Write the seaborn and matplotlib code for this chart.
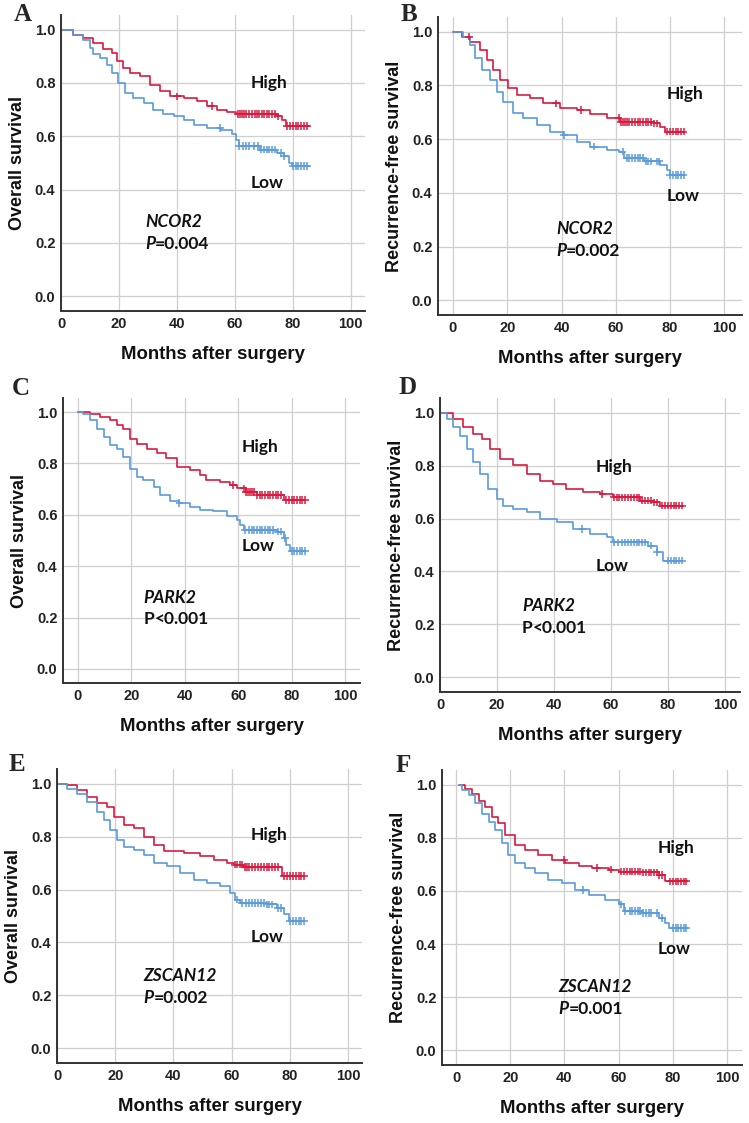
import numpy as np
import pandas as pd
import matplotlib
matplotlib.use('Agg')
import matplotlib.pyplot as plt
import seaborn as sns

# ---- Kaplan-Meier step values (months, survival) ----
# A: overall survival, NCOR2
A_HIGH_T = [0, 4.3, 7.7, 11.2, 14.6, 17.5, 19.2, 21.5, 23.8, 27.3, 30.8, 34.3, 37.7, 42.4, 47, 50.5, 54, 57.4, 60.3, 74.7, 76.4, 77.6, 85.5]
A_HIGH_S = [1.0, 0.981, 0.969, 0.950, 0.929, 0.913, 0.882, 0.857, 0.838, 0.826, 0.794, 0.769, 0.750, 0.744, 0.734, 0.713, 0.700, 0.692, 0.684, 0.675, 0.663, 0.638, 0.638]
A_LOW_T = [0, 4.3, 7.7, 10, 11.2, 13.5, 15.8, 17.5, 19.8, 22.1, 25, 28.5, 31.9, 35.4, 38.9, 42.4, 45.8, 50.5, 55.1, 59.1, 60.3, 61.4, 68.9, 74.7, 77, 78.7, 79.9, 85.5]
A_LOW_S = [1.0, 0.981, 0.963, 0.931, 0.907, 0.894, 0.869, 0.838, 0.800, 0.763, 0.744, 0.725, 0.700, 0.684, 0.675, 0.663, 0.644, 0.632, 0.622, 0.607, 0.588, 0.563, 0.550, 0.538, 0.525, 0.500, 0.488, 0.488]
A_HIGH_CENS = [40, 52, 61, 61.7, 62.5, 63.3, 64, 65, 66, 67, 67.8, 68.5, 69.3, 70, 71, 72, 73, 74, 75, 78, 79, 80, 81, 82, 83, 84, 85]
A_LOW_CENS = [55, 61.5, 63, 64, 65, 66.5, 68, 69, 70, 71, 72, 73, 74, 76, 77, 80, 81, 82, 83, 84, 85]

# B: recurrence-free survival, NCOR2
B_HIGH_T = [0, 0.7, 3.5, 6.3, 9.9, 12.4, 14.9, 17.3, 20.4, 23.5, 28.4, 33.3, 39.5, 45.6, 50.6, 56.7, 61.6, 73.9, 76.4, 78.2, 85]
B_HIGH_S = [1.0, 1.0, 0.982, 0.963, 0.932, 0.895, 0.858, 0.820, 0.789, 0.764, 0.752, 0.733, 0.715, 0.709, 0.694, 0.678, 0.665, 0.659, 0.647, 0.628, 0.628]
B_LOW_T = [0, 0.7, 3.8, 6.3, 8.1, 10.6, 13.7, 16.1, 18.6, 22.3, 25.9, 30.9, 35.8, 40.7, 45.6, 50.6, 56.7, 61, 62.9, 70.3, 76.4, 78.8, 80, 85]
B_LOW_S = [1.0, 1.0, 0.982, 0.951, 0.901, 0.858, 0.820, 0.777, 0.740, 0.696, 0.678, 0.653, 0.628, 0.616, 0.591, 0.572, 0.560, 0.554, 0.529, 0.517, 0.504, 0.486, 0.467, 0.467]
B_HIGH_CENS = [6, 38, 47, 61, 62, 62.8, 63.5, 64.3, 65, 66, 67, 68, 69, 70, 71, 72, 73, 74, 75, 79, 80, 81, 82, 83, 84, 85]
B_LOW_CENS = [41, 52, 62.5, 64, 65, 66, 67, 68, 69, 70, 71, 72, 73, 75, 76, 80, 81, 82, 83, 84, 85]

# C: overall survival, PARK2
C_HIGH_T = [0, 4.6, 8.4, 12, 14.6, 17, 19.6, 22, 25.8, 29.5, 33, 37, 42, 45.8, 48, 53, 57, 59.5, 63, 67, 77, 85]
C_HIGH_S = [1.0, 0.994, 0.98, 0.968, 0.95, 0.935, 0.897, 0.877, 0.858, 0.84, 0.82, 0.787, 0.775, 0.755, 0.735, 0.729, 0.716, 0.703, 0.69, 0.677, 0.658, 0.658]
C_LOW_T = [0, 2, 4.6, 7, 9.6, 12, 14.6, 17, 19.6, 22, 24.5, 28.3, 30.8, 34.5, 38, 42, 45.8, 50.7, 55.7, 59.5, 60.7, 62, 74.4, 77, 78, 79.4, 85]
C_LOW_S = [1.0, 0.994, 0.968, 0.935, 0.903, 0.871, 0.858, 0.826, 0.78, 0.748, 0.735, 0.71, 0.677, 0.652, 0.645, 0.632, 0.619, 0.613, 0.594, 0.58, 0.561, 0.542, 0.535, 0.51, 0.484, 0.458, 0.458]
C_HIGH_CENS = [58, 62, 63, 63.7, 64.5, 65.3, 66, 67, 68, 69, 70, 71, 72, 73, 74, 75, 76, 78, 79, 80, 81, 82, 83, 84, 85]
C_LOW_CENS = [38, 62.5, 64, 65, 66, 67, 68, 69, 70, 71, 72, 73, 75, 76, 77.5, 80, 81, 82, 83, 84, 85]

# D: recurrence-free survival, PARK2
D_HIGH_T = [0, 4.7, 8.2, 11.7, 14.6, 17.5, 21, 25.7, 30.4, 35.1, 39.8, 44.4, 50.3, 56.1, 60.8, 70.2, 74.9, 77.2, 85.4]
D_HIGH_S = [1.0, 0.976, 0.945, 0.920, 0.901, 0.864, 0.826, 0.801, 0.768, 0.743, 0.731, 0.712, 0.699, 0.693, 0.680, 0.668, 0.661, 0.649, 0.649]
D_LOW_T = [0, 2.3, 4.7, 7, 9.4, 11.7, 14, 17, 19.9, 22.2, 25.7, 30.4, 35.1, 40.9, 46.8, 52.6, 58.5, 60.8, 73.1, 76, 78.4, 85]
D_LOW_S = [1.0, 0.976, 0.945, 0.913, 0.864, 0.813, 0.769, 0.712, 0.674, 0.649, 0.637, 0.624, 0.599, 0.586, 0.561, 0.542, 0.529, 0.510, 0.498, 0.472, 0.441, 0.441]
D_HIGH_CENS = [57, 61, 62, 63, 64, 65, 66, 67, 68, 69, 70, 71, 72, 73, 74, 75, 76, 78, 79, 80, 81, 82, 83, 84, 85]
D_LOW_CENS = [50, 61, 62.5, 64, 65, 66, 67, 68, 69, 70, 71, 72, 74, 76, 80, 81, 82, 83, 84, 85]

# E: overall survival, ZSCAN12
E_HIGH_T = [0, 3.4, 6.9, 10.3, 13.7, 17.2, 19.5, 22.9, 26.3, 29.8, 33.2, 36.6, 43.5, 49, 53.8, 58.4, 60.7, 64, 77.3, 85]
E_HIGH_S = [1.0, 0.994, 0.975, 0.95, 0.925, 0.912, 0.875, 0.844, 0.831, 0.80, 0.769, 0.744, 0.737, 0.725, 0.712, 0.70, 0.694, 0.685, 0.65, 0.65]
E_LOW_T = [0, 3.4, 6.9, 10.3, 13.7, 16, 18.3, 20.6, 22.9, 26.3, 29.8, 33.2, 37.8, 42.4, 47, 51.5, 56, 59.6, 61.3, 63, 72, 75.6, 77.9, 79.6, 85]
E_LOW_S = [1.0, 0.981, 0.962, 0.931, 0.894, 0.862, 0.825, 0.787, 0.762, 0.75, 0.731, 0.70, 0.687, 0.662, 0.637, 0.625, 0.612, 0.587, 0.562, 0.55, 0.544, 0.531, 0.506, 0.481, 0.481]
E_HIGH_CENS = [61, 62, 63, 63.7, 64.5, 65.3, 66, 67, 68, 69, 70, 71, 72, 73, 74, 75, 76, 78, 79, 80, 81, 82, 83, 84, 85]
E_LOW_CENS = [62, 63.5, 65, 66, 67, 68, 69, 70, 71, 72, 73, 74, 76, 77, 80, 81, 82, 83, 84, 85]

# F: recurrence-free survival, ZSCAN12
F_HIGH_T = [0.9, 3.3, 5.8, 8.3, 10.7, 13.2, 15.6, 18.1, 21.8, 25.5, 30.4, 35.3, 40.3, 45.2, 50, 56.3, 60, 68.6, 74.8, 77.2, 85]
F_HIGH_S = [1.0, 0.985, 0.966, 0.94, 0.916, 0.879, 0.854, 0.81, 0.773, 0.755, 0.735, 0.717, 0.704, 0.695, 0.686, 0.68, 0.673, 0.67, 0.661, 0.636, 0.636]
F_LOW_T = [0.9, 2, 4.6, 7, 9.5, 12, 14.4, 16.9, 19.3, 21.8, 25.5, 29, 34, 39, 44, 48.9, 55, 60, 61.8, 68.6, 74.8, 77.2, 78.4, 85]
F_LOW_S = [1.0, 0.98, 0.96, 0.93, 0.89, 0.86, 0.83, 0.78, 0.736, 0.704, 0.686, 0.667, 0.642, 0.63, 0.604, 0.586, 0.567, 0.549, 0.524, 0.517, 0.499, 0.48, 0.461, 0.461]
F_HIGH_CENS = [40, 52, 57, 61, 62, 63, 64, 65, 66, 67, 68, 69, 70, 71, 72, 73, 74, 75, 76, 79, 80, 81, 82, 83, 84, 85]
F_LOW_CENS = [47, 61, 62.5, 64, 65, 66, 67, 68, 69, 70, 71, 72, 74, 76, 80, 81, 82, 83, 84, 85]

LETTERS = ['A', 'B', 'C', 'D', 'E', 'F']
YLABELS = ['Overall survival', 'Recurrence-free survival'] * 3
GENES = ['NCOR2', 'NCOR2', 'PARK2', 'PARK2', 'ZSCAN12', 'ZSCAN12']
PVALUES = ['=0.004', '=0.002', '<0.001', '<0.001', '=0.002', '=0.001']
P_ITALIC = [True, True, False, False, True, True]

RED = '#d81a40'
BLUE = '#5b9bdc'
palette = {'High': RED, 'Low': BLUE}

sns.set_style('whitegrid')
plt.rcParams['font.family'] = ['Liberation Sans', 'DejaVu Sans']
ANNOT_FONT = ['Lato', 'DejaVu Sans']


def km_frame(t, s, group):
    return pd.DataFrame({'months': t, 'survival': s, 'group': group})


def censor_frame(t, s, cens, group):
    t = np.asarray(t)
    s = np.asarray(s)
    idx = np.searchsorted(t, cens, side='right') - 1
    return pd.DataFrame({'months': cens, 'survival': s[idx], 'group': group})


def draw_panel(fig, rect, xlim, i, high, low, high_xy, low_xy, gene_xy, letter_xy):
    ax = fig.add_axes(rect)
    df = pd.concat([km_frame(high[0], high[1], 'High'),
                    km_frame(low[0], low[1], 'Low')])
    sns.lineplot(data=df, x='months', y='survival', hue='group',
                 palette=palette, estimator=None, drawstyle='steps-post',
                 linewidth=1.2, legend=False, ax=ax)
    cf = pd.concat([censor_frame(high[0], high[1], high[2], 'High'),
                    censor_frame(low[0], low[1], low[2], 'Low')])
    sns.scatterplot(data=cf, x='months', y='survival', hue='group',
                    palette=palette, marker='+', s=30, linewidth=1.1,
                    legend=False, ax=ax, zorder=3)

    ax.set_xlim(*xlim)
    ax.set_ylim(-0.055, 1.055)
    ax.set_xticks([0, 20, 40, 60, 80, 100])
    ax.set_yticks([0.0, 0.2, 0.4, 0.6, 0.8, 1.0])
    ax.set_yticklabels(['%.1f' % v for v in [0.0, 0.2, 0.4, 0.6, 0.8, 1.0]])
    ax.grid(True, color='#cfcfcf', linewidth=0.9)
    ax.set_axisbelow(True)
    for side in ['top', 'right']:
        ax.spines[side].set_visible(False)
    for side in ['left', 'bottom']:
        ax.spines[side].set_visible(True)
        ax.spines[side].set_color('#333333')
        ax.spines[side].set_linewidth(1.4)
    ax.tick_params(length=0, pad=4, labelsize=10.5, labelcolor='#222222')
    for lab in ax.get_xticklabels() + ax.get_yticklabels():
        lab.set_fontweight('bold')
    ax.set_xlabel('Months after surgery', fontsize=13.3, fontweight='bold',
                  color='#111111', labelpad=11)
    ax.set_ylabel(YLABELS[i], fontsize=13, fontweight='bold',
                  color='#111111', labelpad=6)

    ax.text(high_xy[0], high_xy[1], 'High', fontsize=12.5, fontweight='bold',
            family=ANNOT_FONT, va='center', ha='left', color='#111111')
    ax.text(low_xy[0], low_xy[1], 'Low', fontsize=12.5, fontweight='bold',
            family=ANNOT_FONT, va='center', ha='left', color='#111111')
    ax.text(gene_xy[0], gene_xy[1], GENES[i], fontsize=12.5, fontweight='bold',
            style='italic', family=ANNOT_FONT, va='center', ha='left',
            color='#111111')
    p = ax.text(gene_xy[0], gene_xy[1] - 0.083, 'P', fontsize=12.5,
                fontweight='bold', style='italic' if P_ITALIC[i] else 'normal',
                family=ANNOT_FONT, va='center', ha='left', color='#111111')
    ax.annotate(PVALUES[i], xy=(1, 0), xycoords=p, va='bottom', ha='left',
                fontsize=12.5, fontweight='bold', family=ANNOT_FONT,
                color='#111111')
    fig.text(letter_xy[0], letter_xy[1], LETTERS[i], fontsize=18,
             fontweight='bold', family=['Liberation Serif', 'DejaVu Serif'],
             ha='left', va='top')
    return ax


W, H = 749, 1123
fig = plt.figure(figsize=(W / 100, H / 100), dpi=100)


def rect_px(left, top, right, bottom):
    return [left / W, 1 - bottom / H, (right - left) / W, (bottom - top) / H]


panels = [
    (rect_px(61, 15, 365, 311), (0, 105), (A_HIGH_T, A_HIGH_S, A_HIGH_CENS),
     (A_LOW_T, A_LOW_S, A_LOW_CENS), (65.4, 0.80), (65.4, 0.425), (29, 0.28), (14, 3)),
    (rect_px(438, 17, 742, 315), (-5.5, 106.5), (B_HIGH_T, B_HIGH_S, B_HIGH_CENS),
     (B_LOW_T, B_LOW_S, B_LOW_CENS), (78.7, 0.768), (78.7, 0.39), (38, 0.267), (401, 3)),
    (rect_px(63, 398, 360, 683), (-5.6, 105.6), (C_HIGH_T, C_HIGH_S, C_HIGH_CENS),
     (C_LOW_T, C_LOW_S, C_LOW_CENS), (61.3, 0.865), (61.3, 0.48), (24.6, 0.277), (12, 377)),
    (rect_px(440, 398, 740, 692), (0, 105.3), (D_HIGH_T, D_HIGH_S, D_HIGH_CENS),
     (D_LOW_T, D_LOW_S, D_LOW_CENS), (54.5, 0.796), (54.5, 0.42), (28.8, 0.27), (399, 376)),
    (rect_px(57, 769, 362, 1063), (0, 104.8), (E_HIGH_T, E_HIGH_S, E_HIGH_CENS),
     (E_LOW_T, E_LOW_S, E_LOW_CENS), (66.4, 0.806), (66.4, 0.4225), (29.6, 0.275), (9, 753)),
    (rect_px(442, 770, 742, 1065), (-5.2, 105.5), (F_HIGH_T, F_HIGH_S, F_HIGH_CENS),
     (F_LOW_T, F_LOW_S, F_LOW_CENS), (74.4, 0.763), (74.4, 0.38), (37.8, 0.237), (396, 754)),
]

for i, (rect, xlim, high, low, hxy, lxy, gxy, letter_px) in enumerate(panels):
    draw_panel(fig, rect, xlim, i, high, low, hxy, lxy, gxy,
               (letter_px[0] / W, 1 - letter_px[1] / H))

fig.savefig('out.png', dpi=100)
